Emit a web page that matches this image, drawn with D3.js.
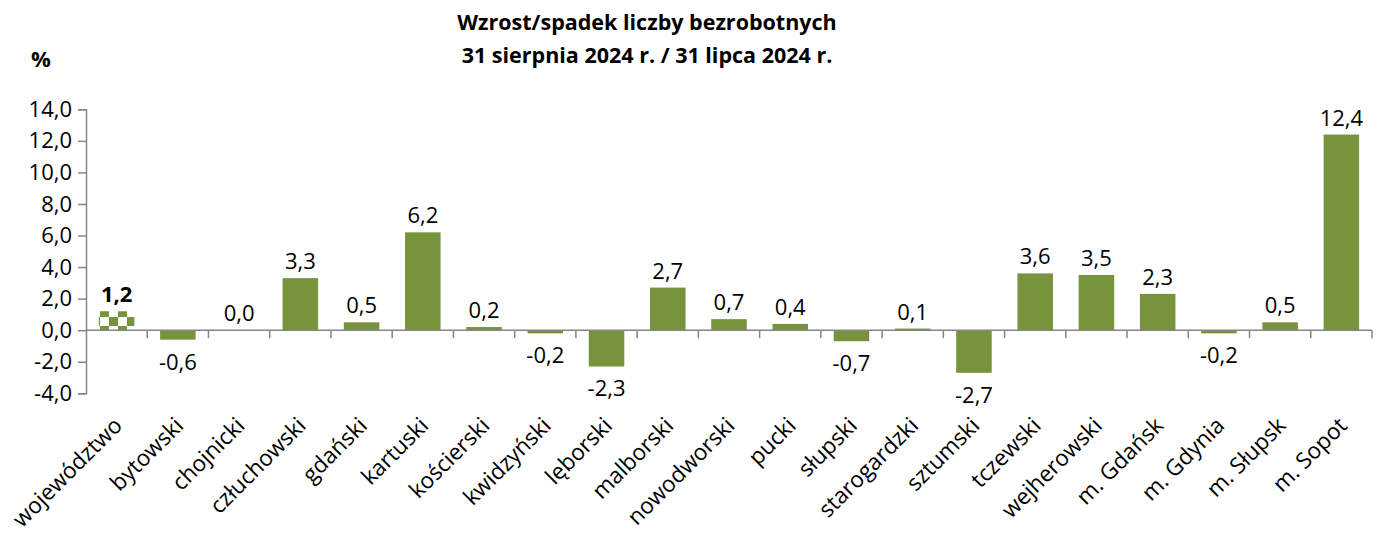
<!DOCTYPE html>
<html>
<head>
<meta charset="utf-8">
<script src="https://cdn.jsdelivr.net/npm/d3@7"></script>
<style>
  body { margin: 0; background: #fff; }
  svg text { font-family: "Open Sans", sans-serif; fill: #000; }
</style>
</head>
<body>
<div class="chart"></div>
<script>
const categories = ['województwo', 'bytowski', 'chojnicki', 'człuchowski', 'gdański', 'kartuski',
  'kościerski', 'kwidzyński', 'lęborski', 'malborski', 'nowodworski', 'pucki', 'słupski',
  'starogardzki', 'sztumski', 'tczewski', 'wejherowski', 'm. Gdańsk', 'm. Gdynia', 'm. Słupsk', 'm. Sopot']
const values = [1.2, -0.6, 0.0, 3.3, 0.5, 6.2, 0.2, -0.2, -2.3, 2.7, 0.7, 0.4, -0.7, 0.1, -2.7,
  3.6, 3.5, 2.3, -0.2, 0.5, 12.4]
const yTicks = [-4, -2, 0, 2, 4, 6, 8, 10, 12, 14]
const titleLines = ['Wzrost/spadek liczby bezrobotnych', '31 sierpnia 2024 r. / 31 lipca 2024 r.']

const width = 1384, height = 535
const green = '#77933C', axisColor = '#868686'
const fmt = v => v.toFixed(1).replace('.', ',')

const svg = d3.select('.chart').append('svg').attr('width', width).attr('height', height)

// checker pattern for the voivodeship bar
const pat = svg.append('defs').append('pattern')
  .attr('id', 'checker').attr('patternUnits', 'userSpaceOnUse')
  .attr('width', 18).attr('height', 18).attr('x', 1).attr('y', 2)
pat.append('rect').attr('width', 18).attr('height', 18).attr('fill', '#fff')
pat.append('rect').attr('x', 9).attr('width', 9).attr('height', 9).attr('fill', green)
pat.append('rect').attr('y', 9).attr('width', 9).attr('height', 9).attr('fill', green)

const x = d3.scaleBand().domain(categories).range([86, 1372]).paddingInner(0.42).paddingOuter(0.21)
const y = d3.scaleLinear().domain([-4, 14]).range([393.3, 109.3])

// title
svg.append('text').attr('x', 647).attr('y', 30).attr('text-anchor', 'middle')
  .attr('font-size', 21.5).attr('font-weight', 'bold')
  .selectAll('tspan').data(titleLines).join('tspan')
  .attr('x', 647).attr('dy', (d, i) => i ? 33 : 0).text(d => d)

svg.append('text').attr('x', 41).attr('y', 67).attr('text-anchor', 'middle')
  .attr('font-size', 22).attr('font-weight', 'bold').text('%')

// y axis
const yAxis = svg.append('g').attr('transform', 'translate(86,0)')
  .call(d3.axisLeft(y).tickValues(yTicks).tickFormat(fmt).tickSize(8).tickPadding(6))
yAxis.select('.domain').attr('stroke', axisColor).attr('stroke-width', 1.5)
yAxis.selectAll('.tick line').attr('stroke', axisColor).attr('stroke-width', 1.5)
yAxis.selectAll('.tick text').attr('font-size', 22).attr('font-family', '"Open Sans", sans-serif').attr('fill', '#000')

// bars
svg.append('g').selectAll('rect').data(values).join('rect')
  .attr('x', (d, i) => x(categories[i]))
  .attr('width', x.bandwidth())
  .attr('y', d => y(Math.max(d, 0)))
  .attr('height', d => Math.abs(y(d) - y(0)))
  .attr('fill', (d, i) => i === 0 ? 'url(#checker)' : green)

// x axis at zero with ticks at band edges
const edges = categories.map(c => x(c) - x.step() * x.paddingInner() / 2)
edges.push(1372)
const xAxis = svg.append('g')
xAxis.append('line').attr('x1', 86).attr('x2', 1372).attr('y1', y(0)).attr('y2', y(0))
  .attr('stroke', axisColor).attr('stroke-width', 1.5)
xAxis.selectAll('.xt').data(edges.slice(1)).join('line').attr('class', 'xt')
  .attr('x1', d => d).attr('x2', d => d).attr('y1', y(0)).attr('y2', y(0) + 8)
  .attr('stroke', axisColor).attr('stroke-width', 1.5)

// value labels
svg.append('g').selectAll('text').data(values).join('text')
  .attr('x', (d, i) => x(categories[i]) + x.bandwidth() / 2)
  .attr('y', d => d >= 0 ? y(d) - 9 : y(d) + 30)
  .attr('text-anchor', 'middle').attr('font-size', 22)
  .attr('font-weight', (d, i) => i === 0 ? 'bold' : 'normal')
  .text(fmt)

// category labels
svg.append('g').selectAll('text').data(categories).join('text')
  .attr('transform', d => `translate(${x(d) + x.bandwidth() / 2 + 7},427) rotate(-45)`)
  .attr('text-anchor', 'end').attr('font-size', 22.5)
  .text(d => d)
</script>
</body>
</html>
